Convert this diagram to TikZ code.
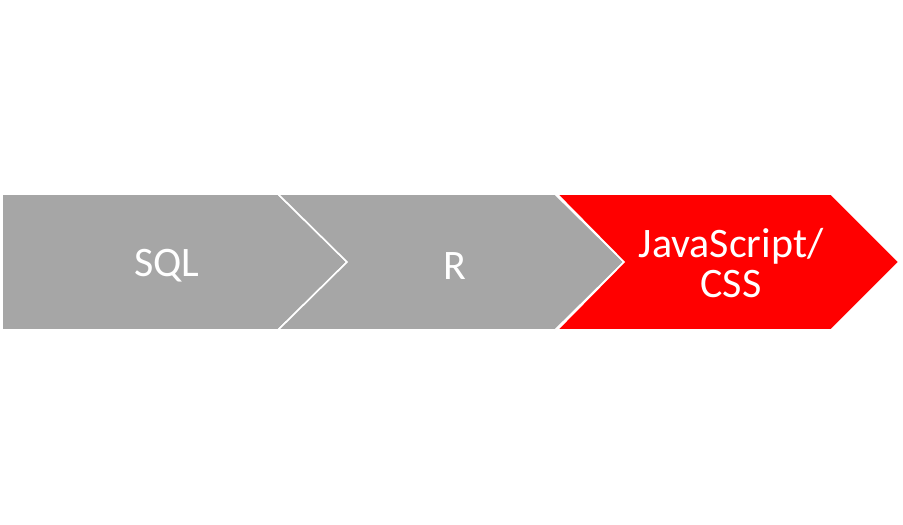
\documentclass[tikz,border=0pt]{standalone}
\usepackage{fontspec}
\setmainfont{Carlito}
\usetikzlibrary{positioning}
\definecolor{stepgray}{HTML}{A6A6A6}
\definecolor{stepred}{HTML}{FF0000}
\newcommand{\stepfont}{\fontsize{42}{40}\selectfont}
\tikzset{
 every node/.append style={font=\stepfont,text=white,align=center},
 chevron/.style={fill=stepgray,draw=white,line width=1.6pt,line join=miter},
 hot/.style={chevron,fill=stepred},
 word/.style={inner sep=0pt},
}
\begin{document}
\begin{tikzpicture}[x=1pt,y=-1pt]

\useasboundingbox (0,0) rectangle (903,525);
\draw[chevron] (2,194) -- (278,194) -- (347,262) -- (278,330) -- (2,330) -- cycle;
\draw[chevron] (278,194) -- (555,194) -- (624,262) -- (555,330) -- (278,330) -- (347,262) -- cycle;
\draw[hot] (557,194) -- (831,194) -- (899,262) -- (831,330) -- (557,330) -- (624,262) -- cycle;
\node[word] (sql) at (167,266) {SQL};
\node[word] (r) at (455,266) {R};
\node[word] (js) at (731,263) {JavaScript/\\CSS};

\end{tikzpicture}
\end{document}
